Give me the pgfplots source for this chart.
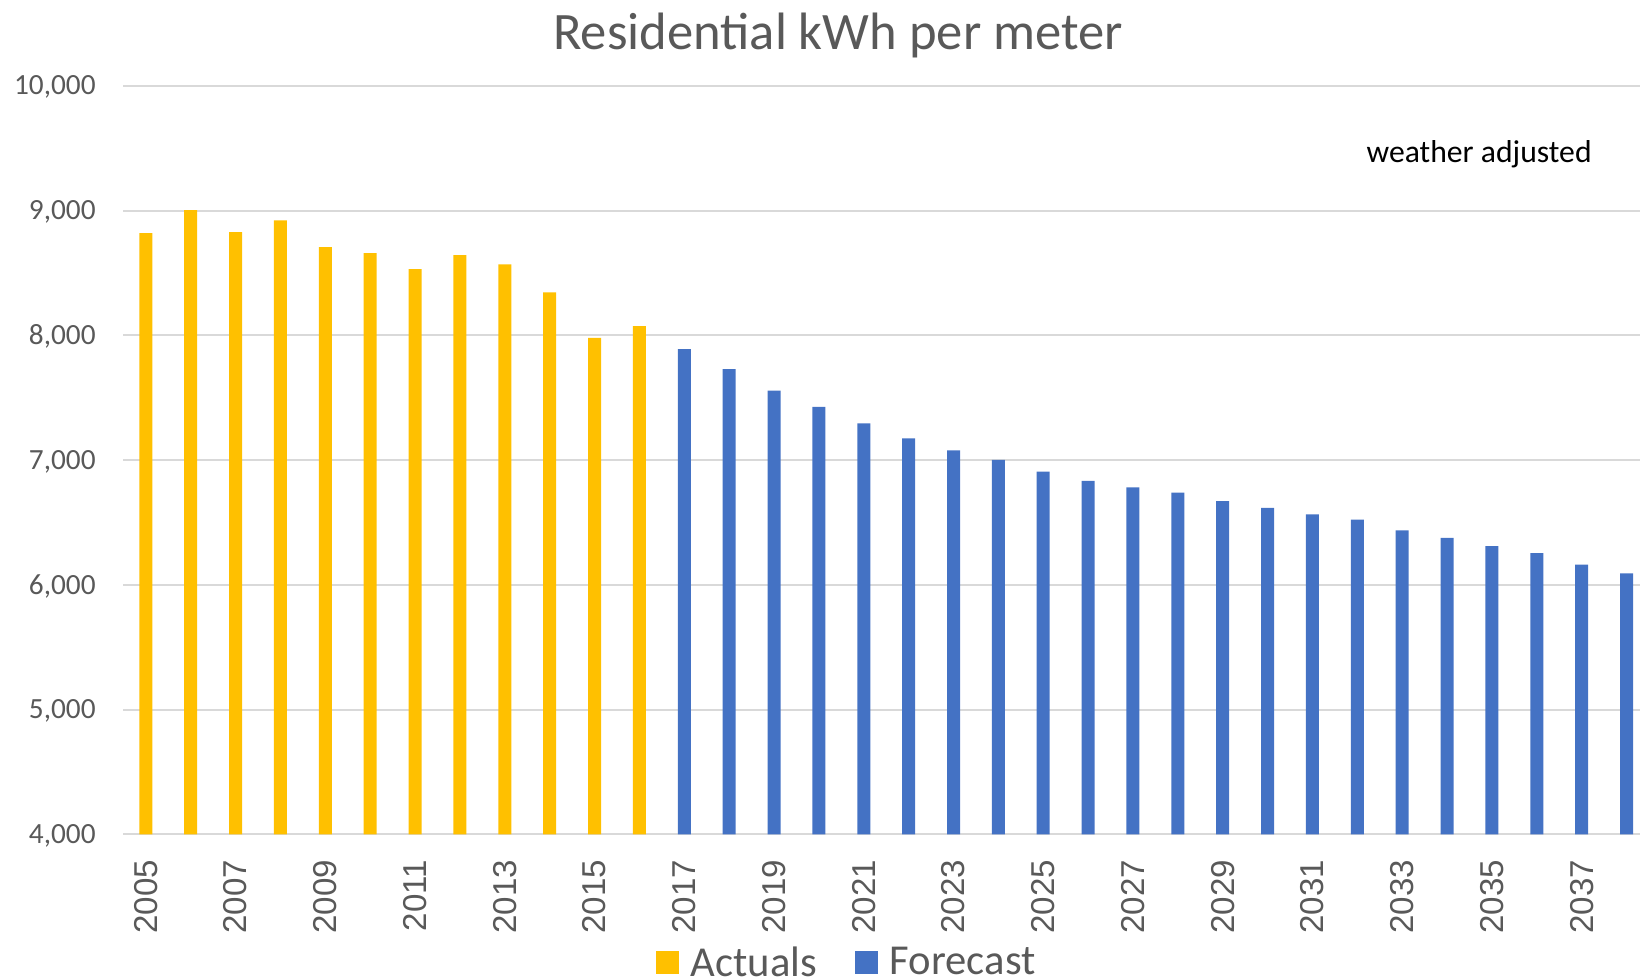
\documentclass[border=0pt]{standalone}
\usepackage{pgfplots}
\pgfplotsset{compat=1.18}
\usepackage{fontspec}
\setmainfont{Carlito}
\newfontfamily\yearfont{Liberation Sans}
\definecolor{actual}{HTML}{FFC000}
\definecolor{fcst}{HTML}{4472C4}
\definecolor{txt}{HTML}{595959}
\definecolor{grd}{HTML}{D9D9D9}
\begin{document}
\begin{tikzpicture}
\useasboundingbox (0,0) rectangle (820bp,490bp);
\begin{axis}[
  at={(61.7bp,72.75bp)}, anchor=south west,
  scale only axis, width=758.3bp, height=374.35bp,
  xmin=-0.5, xmax=33.3, ymin=4000, ymax=10000,
  ytick={4000,5000,6000,7000,8000,9000,10000},
  scaled y ticks=false,
  xtick={0,2,4,6,8,10,12,14,16,18,20,22,24,26,28,30,32},
  xticklabels={2005,2007,2009,2011,2013,2015,2017,2019,2021,2023,2025,2027,2029,2031,2033,2035,2037},
  ymajorgrids, grid style={grd, line width=1bp},
  major tick length=0pt,
  axis line style={draw=none},
  /pgf/number format/.cd, fixed, precision=0, 1000 sep={,}, assume math mode=true, /pgfplots/.cd,
  yticklabel style={font=\fontsize{14.7}{16}\selectfont, text=txt, anchor=base east, inner sep=0pt, xshift=-13.7bp, yshift=-4.6bp},
  xticklabel style={font=\yearfont\fontsize{16.6}{18}\selectfont, text=txt, yshift=-12.6bp, rotate=90, anchor=east, inner sep=0pt},
  ybar, bar width=6.5bp,
  legend columns=2,
  legend style={at={(0.4775,-0.1713)}, anchor=center, draw=none, fill=none,
    font=\fontsize{21.4}{24}\selectfont, text=txt,
    nodes={inner xsep=2bp, inner ysep=0pt},
    /tikz/every even column/.append style={column sep=17bp}},
]
\addplot[fill=actual, draw=none, bar shift=0pt,
  legend image code/.code={\fill[actual] (0bp,-5.75bp) rectangle (11.5bp,5.75bp); \path (15.5bp,0bp);}]
  table[x=x,y=y]{
x y
0 8819
1 9004
2 8827
3 8922
4 8708
5 8659
6 8530
7 8643
8 8568
9 8345
10 7979
11 8075
};
\addlegendentry{Actuals}
\addplot[fill=fcst, draw=none, bar shift=0pt,
  legend image code/.code={\fill[fcst] (0bp,-5.75bp) rectangle (11.5bp,5.75bp); \path (15.5bp,0bp);}]
  table[x=x,y=y]{
x y
12 7890
13 7729
14 7558
15 7427
16 7294
17 7175
18 7078
19 7002
20 6909
21 6833
22 6781
23 6740
24 6671
25 6617
26 6565
27 6523
28 6438
29 6377
30 6310
31 6254
32 6163
33 6093
};
\addlegendentry{Forecast}
\end{axis}
\node[anchor=base, font=\fontsize{26.4}{30}\selectfont, text=txt, inner sep=0pt] at (419bp,465bp) {Residential kWh per meter};
\node[anchor=base east, font=\fontsize{15.9}{18}\selectfont, text=black, inner sep=0pt] at (796bp,408.5bp) {weather adjusted};
\end{tikzpicture}
\end{document}
